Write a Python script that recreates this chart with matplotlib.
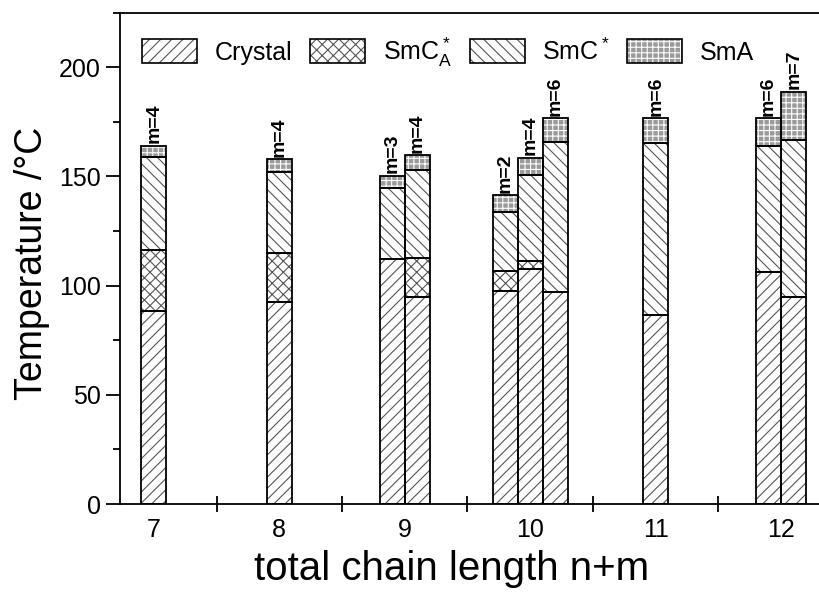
import matplotlib
matplotlib.use('Agg')
import matplotlib.pyplot as plt
from matplotlib.patches import Patch
from matplotlib.ticker import MultipleLocator, FixedLocator
import numpy as np

plt.rcParams['font.family'] = ['Liberation Sans', 'DejaVu Sans']
plt.rcParams['mathtext.fontset'] = 'custom'
plt.rcParams['mathtext.rm'] = 'Liberation Sans'
plt.rcParams['mathtext.default'] = 'regular'
plt.rcParams['hatch.linewidth'] = 0.8

# data: chain length n+m, spacer m, transition temperatures (deg C)
chain_length = [7, 8, 9, 9, 10, 10, 10, 11, 12, 12]
m_value = [4, 4, 3, 4, 2, 4, 6, 6, 6, 7]
t_melt = [88.5, 92.3, 112.4, 95.0, 97.4, 107.8, 97.2, 86.7, 106.3, 94.8]
t_smca = [116.5, 115.0, 112.4, 112.8, 106.6, 111.5, 97.2, 86.7, 106.3, 94.8]
t_smc = [158.9, 152.0, 144.5, 152.9, 133.6, 150.6, 165.8, 165.1, 163.9, 166.5]
t_clear = [163.9, 157.8, 150.4, 159.6, 141.4, 158.6, 176.6, 176.6, 176.6, 188.8]

phases = ['Crystal', 'SmC$^*_A$', 'SmC$^*$', 'SmA']
hatches = ['///', 'xxx', '\\\\\\', '+++']
faces = ['white', 'white', 'white', '#9a9a9a']
hatch_cols = ['#555555', '#555555', '#555555', 'white']

width = 0.2

fig = plt.figure(figsize=(8.2, 5.92), dpi=100)
ax = fig.add_axes([0.1463, 0.1486, 0.8537, 0.83])

# x positions: bars in a group sit side by side around the chain length
xpos = []
for i, n in enumerate(chain_length):
    same = [j for j, c in enumerate(chain_length) if c == n]
    k = same.index(i)
    xpos.append(n + (k - (len(same) - 1) / 2) * width)
xpos = np.array(xpos)

tops = np.array([t_melt, t_smca, t_smc, t_clear])
bottoms = np.vstack([np.zeros(len(t_melt)), tops[:-1]])

for p in range(4):
    h = tops[p] - bottoms[p]
    ax.bar(xpos, h, width, bottom=bottoms[p], facecolor=faces[p],
           edgecolor=hatch_cols[p], hatch=hatches[p], linewidth=0, zorder=2)
    ax.bar(xpos, h, width, bottom=bottoms[p], facecolor='none',
           edgecolor='black', linewidth=1.3, zorder=3)

for x, top, m in zip(xpos, t_clear, m_value):
    ax.text(x, top + 1.2, 'm=%d' % m, rotation=90, ha='center', va='bottom',
            fontsize=14, fontweight='bold')

ax.set_xlim(6.73, 12.31)
ax.set_ylim(0, 225)

ax.xaxis.set_major_locator(FixedLocator([7, 8, 9, 10, 11, 12]))
ax.xaxis.set_minor_locator(FixedLocator([7.5, 8.5, 9.5, 10.5, 11.5]))
ax.tick_params(axis='x', which='major', length=0, pad=10, labelsize=18)
ax.tick_params(axis='x', which='minor', direction='inout', length=11, width=1.3)
ax.yaxis.set_major_locator(MultipleLocator(50))
ax.yaxis.set_minor_locator(MultipleLocator(25))
ax.tick_params(axis='y', which='major', length=10, width=1.3, labelsize=18, pad=4)
ax.tick_params(axis='y', which='minor', length=5, width=1.3)

ax.spines['right'].set_visible(False)
for s in ['left', 'bottom', 'top']:
    ax.spines[s].set_linewidth(1.3)

ax.set_xlabel('total chain length n+m', fontsize=29)
ax.xaxis.set_label_coords(0.473, -0.093)
ax.set_ylabel('Temperature /°C', fontsize=27)
ax.yaxis.set_label_coords(-0.1, 0.49)

handles = []
for p in range(4):
    handles.append((Patch(facecolor=faces[p], edgecolor=hatch_cols[p],
                          hatch=hatches[p], linewidth=0),
                    Patch(facecolor='none', edgecolor='black', linewidth=1.2)))
ax.legend(handles, phases, ncol=4, frameon=False, loc='upper left',
          bbox_to_anchor=(0.0, 1.0), fontsize=18, handlelength=2.2,
          handleheight=1.1, handletextpad=0.7, columnspacing=0.7,
          borderaxespad=0.5)

fig.savefig('out.png', dpi=100)
